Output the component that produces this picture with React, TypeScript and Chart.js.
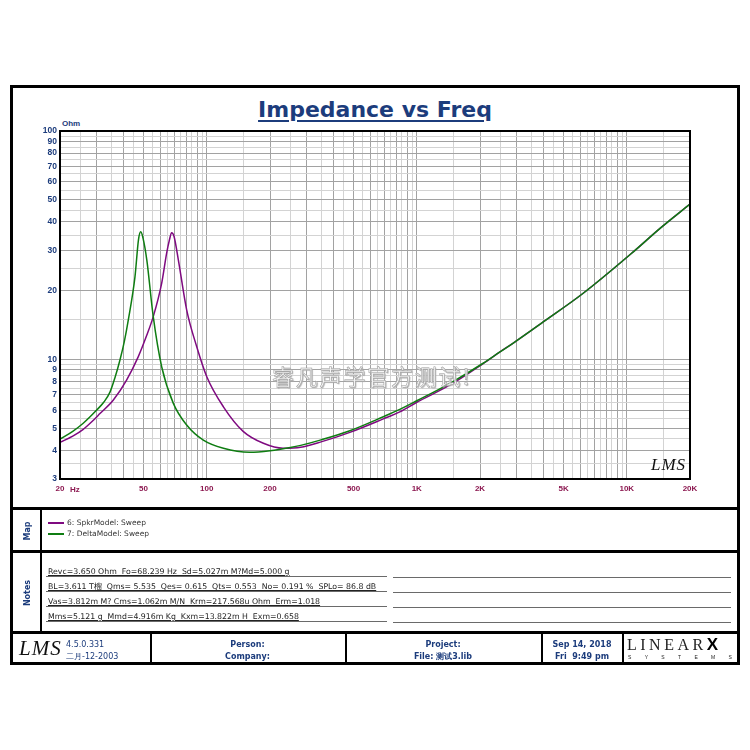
import React, { useRef, useEffect } from 'react';
import Chart from 'chart.js/auto';

// 7: DeltaModel sweep (green)
const greenFreq = [20, 23, 25.8, 29.9, 32.3, 34.6, 36.5, 38.6, 40.5, 42.3, 45.5, 47.3, 48.5, 49.7, 51.8, 55.6, 61, 69.3, 80.2, 96.3, 120, 160, 200, 250, 280, 350, 480, 693, 830, 1000, 1440, 2070, 2490, 2880, 4000, 6200, 10740, 14400, 20000];
const greenZ = [4.48, 4.85, 5.26, 6.01, 6.5, 7.2, 8.3, 9.95, 12.0, 14.9, 23.0, 33.5, 36.2, 34.0, 27.3, 15.4, 9.29, 6.43, 5.17, 4.44, 4.09, 3.93, 3.99, 4.12, 4.21, 4.45, 4.88, 5.62, 6.05, 6.6, 7.87, 9.63, 10.8, 11.8, 14.6, 19.5, 29.6, 37.5, 47.9];

// 6: SpkrModel sweep (purple)
const purpleFreq = [20, 23, 25.8, 28.5, 31, 35.9, 41.5, 47.2, 51.5, 55.6, 61, 64.4, 66.5, 68, 69.8, 73.2, 80.2, 89.5, 100, 120, 149, 186, 231, 280, 350, 480, 693, 830, 1000, 1440, 2070, 2490, 2880, 4000, 6200, 10740, 14400, 20000];
const purpleZ = [4.34, 4.62, 4.95, 5.37, 5.8, 6.65, 8.13, 10.3, 12.6, 15.4, 21.6, 29.2, 33.6, 35.9, 34.6, 27.3, 16.5, 11.4, 8.41, 6.21, 4.85, 4.30, 4.09, 4.13, 4.36, 4.8, 5.5, 5.9, 6.5, 7.74, 9.6, 10.8, 11.8, 14.6, 19.5, 29.6, 37.5, 47.9];

const seriesNames = ['6: SpkrModel: Sweep', '7: DeltaModel: Sweep'];

const xTickValues = [20, 50, 100, 200, 500, 1000, 2000, 5000, 10000, 20000];
const xTickLabels = ['20', '50', '100', '200', '500', '1K', '2K', '5K', '10K', '20K'];
const yTickValues = [3, 4, 5, 6, 7, 8, 9, 10, 20, 30, 40, 50, 60, 70, 80, 90, 100];
const yTickLabels = ['3', '4', '5', '6', '7', '8', '9', '10', '20', '30', '40', '50', '60', '70', '80', '90', '100'];

const notesLines = [
  'Revc=3.650 Ohm  Fo=68.239 Hz  Sd=5.027m M?Md=5.000 g',
  'BL=3.611 T榴  Qms= 5.535  Qes= 0.615  Qts= 0.553  No= 0.191 %  SPLo= 86.8 dB',
  'Vas=3.812m M? Cms=1.062m M/N  Krm=217.568u Ohm  Erm=1.018',
  'Mms=5.121 g  Mmd=4.916m Kg  Kxm=13.822m H  Exm=0.658',
];

const PURPLE = '#7f0a80';
const GREEN = '#0f7d12';
const NAVY = '#1c3c7c';
const MAROON = '#8c1850';

const mantissas = [1, 1.5, 2, 2.5, 3, 3.5, 4, 4.5, 5, 5.5, 6, 6.5, 7, 7.5, 8, 8.5, 9, 9.5];

function gridValues(min: number, max: number) {
  const out: number[] = [];
  for (const d of [1, 10, 100, 1000, 10000]) {
    for (const m of mantissas) {
      const v = m * d;
      if (v >= min - 1e-9 && v <= max + 1e-9) out.push(v);
    }
  }
  return out;
}

function isMajor(v: number) {
  const d = Math.pow(10, Math.floor(Math.log10(v) + 1e-9));
  const m = v / d;
  return Math.abs(m - Math.round(m)) < 1e-6;
}

function labelFor(values: number[], labels: string[], v: number) {
  const i = values.findIndex((t) => Math.abs(t - v) < t * 1e-6);
  return i >= 0 ? labels[i] : '';
}

const framePlugin = {
  id: 'plotFrame',
  afterDatasetsDraw(chart: any) {
    const { ctx, chartArea: a } = chart;
    ctx.save();
    ctx.strokeStyle = '#000';
    ctx.lineWidth = 2;
    ctx.strokeRect(a.left, a.top, a.right - a.left, a.bottom - a.top);
    ctx.restore();
  },
};

const ImpedanceChart: React.FC = () => {
  const canvasRef = useRef<HTMLCanvasElement>(null);

  useEffect(() => {
    if (!canvasRef.current) return;
    const chart = new Chart(canvasRef.current, {
      type: 'line',
      data: {
        datasets: [
          {
            label: seriesNames[0],
            data: purpleFreq.map((f, i) => ({ x: f, y: purpleZ[i] })),
            borderColor: PURPLE,
            borderWidth: 1.5,
            pointRadius: 0,
            cubicInterpolationMode: 'monotone',
            order: 2,
          },
          {
            label: seriesNames[1],
            data: greenFreq.map((f, i) => ({ x: f, y: greenZ[i] })),
            borderColor: GREEN,
            borderWidth: 1.5,
            pointRadius: 0,
            cubicInterpolationMode: 'monotone',
            order: 1,
          },
        ],
      },
      options: {
        animation: false,
        responsive: false,
        maintainAspectRatio: false,
        layout: { padding: { top: 13, right: 47, left: 0, bottom: 0 } },
        plugins: { legend: { display: false }, tooltip: { enabled: false } },
        scales: {
          x: {
            type: 'logarithmic',
            min: 20,
            max: 20000,
            afterBuildTicks: (s: any) => {
              s.ticks = gridValues(20, 20000).map((v) => ({ value: v }));
            },
            afterFit: (s: any) => {
              s.height = 27;
            },
            ticks: {
              autoSkip: false,
              maxRotation: 0,
              padding: 5,
              color: MAROON,
              font: { family: '"Liberation Sans", Arial, sans-serif', size: 8, weight: 'bold' },
              callback: (v: any) => labelFor(xTickValues, xTickLabels, Number(v)),
            },
            grid: {
              drawTicks: false,
              color: (ctx: any) => (ctx.tick && isMajor(ctx.tick.value) ? '#a2a2a2' : '#d3d3d3'),
            },
            border: { display: false },
          },
          y: {
            type: 'logarithmic',
            min: 3,
            max: 100,
            afterBuildTicks: (s: any) => {
              s.ticks = gridValues(3, 100).map((v) => ({ value: v }));
            },
            afterFit: (s: any) => {
              s.width = 47;
            },
            ticks: {
              autoSkip: false,
              padding: 3,
              color: NAVY,
              font: { family: '"Liberation Sans", Arial, sans-serif', size: 8.5, weight: 'bold' },
              callback: (v: any) => labelFor(yTickValues, yTickLabels, Number(v)),
            },
            grid: {
              drawTicks: false,
              color: (ctx: any) => (ctx.tick && isMajor(ctx.tick.value) ? '#a2a2a2' : '#d3d3d3'),
            },
            border: { display: false },
          },
        },
      } as any,
      plugins: [framePlugin],
    });
    return () => chart.destroy();
  }, []);

  return (
    <canvas
      ref={canvasRef}
      width={724}
      height={388}
      style={{ position: 'absolute', left: 13, top: 118, width: 724, height: 388 }}
    />
  );
};

const abs = (left: number, top: number, extra: React.CSSProperties = {}): React.CSSProperties => ({
  position: 'absolute',
  left,
  top,
  ...extra,
});

const hLine = (top: number, left: number, width: number, h = 3) => (
  <div style={abs(left, top, { width, height: h, background: '#000' })} />
);
const vLine = (left: number, top: number, height: number, w = 2) => (
  <div style={abs(left, top, { width: w, height, background: '#000' })} />
);

const small: React.CSSProperties = {
  fontFamily: '"DejaVu Sans", Verdana, sans-serif',
  fontSize: 7.5,
  color: '#333',
  whiteSpace: 'pre',
  lineHeight: '10px',
};

const footerText: React.CSSProperties = {
  fontFamily: '"DejaVu Sans", Verdana, sans-serif',
  fontSize: 8,
  fontWeight: 'bold',
  color: NAVY,
  whiteSpace: 'pre',
  lineHeight: '12px',
  textAlign: 'center',
};

export default function App() {
  return (
    <div style={abs(0, 0, { width: 750, height: 750, background: '#fff', overflow: 'hidden' })}>
      {/* outer frame */}
      <div style={abs(10, 85, { width: 730, height: 580, border: '3px solid #000', boxSizing: 'border-box' })} />

      {/* title */}
      <div
        style={abs(0, 97, {
          width: 750,
          textAlign: 'center',
          fontFamily: '"DejaVu Sans", Verdana, sans-serif',
          fontWeight: 'bold',
          fontSize: 22,
          color: NAVY,
          textDecoration: 'underline',
          textUnderlineOffset: 3,
          lineHeight: '26px',
        })}
      >
        Impedance vs Freq
      </div>

      <div style={abs(62, 119, { fontFamily: '"Liberation Sans", Arial, sans-serif', fontSize: 8, fontWeight: 'bold', color: NAVY })}>
        Ohm
      </div>

      <ImpedanceChart />

      <div style={abs(70, 485, { fontFamily: '"Liberation Sans", Arial, sans-serif', fontSize: 8, fontWeight: 'bold', color: MAROON })}>
        Hz
      </div>

      {/* watermark */}
      <div
        style={abs(272, 361, {
          fontFamily: '"Noto Sans CJK SC", sans-serif',
          fontSize: 22,
          color: '#f4f4f4',
          WebkitTextStroke: '0.5px #9a9a9a',
          textShadow: '1px 1px 1px #b0b0b0',
          letterSpacing: 1.8,
          whiteSpace: 'pre',
          lineHeight: '28px',
        })}
      >
        睿凡声学官方测试!
      </div>

      {/* LMS mark in plot */}
      <div
        style={abs(651, 455, {
          fontFamily: '"Liberation Serif", serif',
          fontStyle: 'italic',
          fontSize: 17,
          color: '#111',
          letterSpacing: 1,
          lineHeight: '20px',
        })}
      >
        LMS
      </div>

      {/* section separators */}
      {hLine(507, 10, 730)}
      {hLine(550, 10, 730)}
      {hLine(631, 10, 730)}
      {vLine(40, 507, 126)}

      {/* Map */}
      <div
        style={abs(27, 531, {
          transform: 'translate(-50%, -50%) rotate(-90deg)',
          fontFamily: '"DejaVu Sans", Verdana, sans-serif',
          fontSize: 8,
          fontWeight: 'bold',
          color: NAVY,
        })}
      >
        Map
      </div>
      <div style={abs(48, 522, { width: 16, height: 1.5, background: PURPLE })} />
      <div style={abs(67, 518, small)}>{seriesNames[0]}</div>
      <div style={abs(48, 533, { width: 16, height: 1.5, background: GREEN })} />
      <div style={abs(67, 529, small)}>{seriesNames[1]}</div>

      {/* Notes */}
      <div
        style={abs(27, 593, {
          transform: 'translate(-50%, -50%) rotate(-90deg)',
          fontFamily: '"DejaVu Sans", Verdana, sans-serif',
          fontSize: 8,
          fontWeight: 'bold',
          color: NAVY,
        })}
      >
        Notes
      </div>
      {notesLines.map((t, i) => (
        <React.Fragment key={i}>
          <div
            style={abs(46, 567 + i * 15, {
              ...small,
              fontSize: 7.8,
              color: '#222',
              width: 341,
              height: 10,
              paddingLeft: 2,
              boxSizing: 'border-box',
              borderBottom: '1px solid #6a6a6a',
              textDecoration: 'underline',
            })}
          >
            {t}
          </div>
          <div style={abs(393, 577 + i * 15, { width: 338, height: 1, background: '#6a6a6a' })} />
        </React.Fragment>
      ))}

      {/* footer */}
      {vLine(150, 633, 30)}
      {vLine(345, 633, 30)}
      {vLine(541, 633, 30)}
      {vLine(622, 633, 30)}

      <div
        style={abs(19, 635, {
          fontFamily: '"Liberation Serif", serif',
          fontStyle: 'italic',
          fontSize: 21,
          color: '#111',
          letterSpacing: 1,
          lineHeight: '26px',
        })}
      >
        LMS
      </div>
      <div style={abs(66, 639, { ...footerText, fontWeight: 'normal', textAlign: 'left' })}>
        {'4.5.0.331\n二月-12-2003'}
      </div>
      <div style={abs(150, 639, { ...footerText, width: 195 })}>{'Person:\nCompany:'}</div>
      <div style={abs(345, 639, { ...footerText, width: 196 })}>{'Project:\nFile: 测试3.lib'}</div>
      <div style={abs(541, 639, { ...footerText, width: 82 })}>{'Sep 14, 2018\nFri  9:49 pm'}</div>

      <div
        style={abs(627, 636, {
          fontFamily: '"Liberation Serif", serif',
          fontSize: 16,
          color: '#222',
          letterSpacing: 3.5,
          lineHeight: '18px',
          whiteSpace: 'pre',
        })}
      >
        LINEAR
        <span style={{ fontFamily: '"Liberation Sans", Arial, sans-serif', fontWeight: 'bold', fontSize: 17, color: '#000' }}>X</span>
      </div>
      <div
        style={abs(628, 654, {
          width: 104,
          display: 'flex',
          justifyContent: 'space-between',
          fontFamily: '"Liberation Sans", Arial, sans-serif',
          fontSize: 5,
          color: '#222',
        })}
      >
        {'SYSTEMS'.split('').map((c, i) => (
          <span key={i}>{c}</span>
        ))}
      </div>
    </div>
  );
}
